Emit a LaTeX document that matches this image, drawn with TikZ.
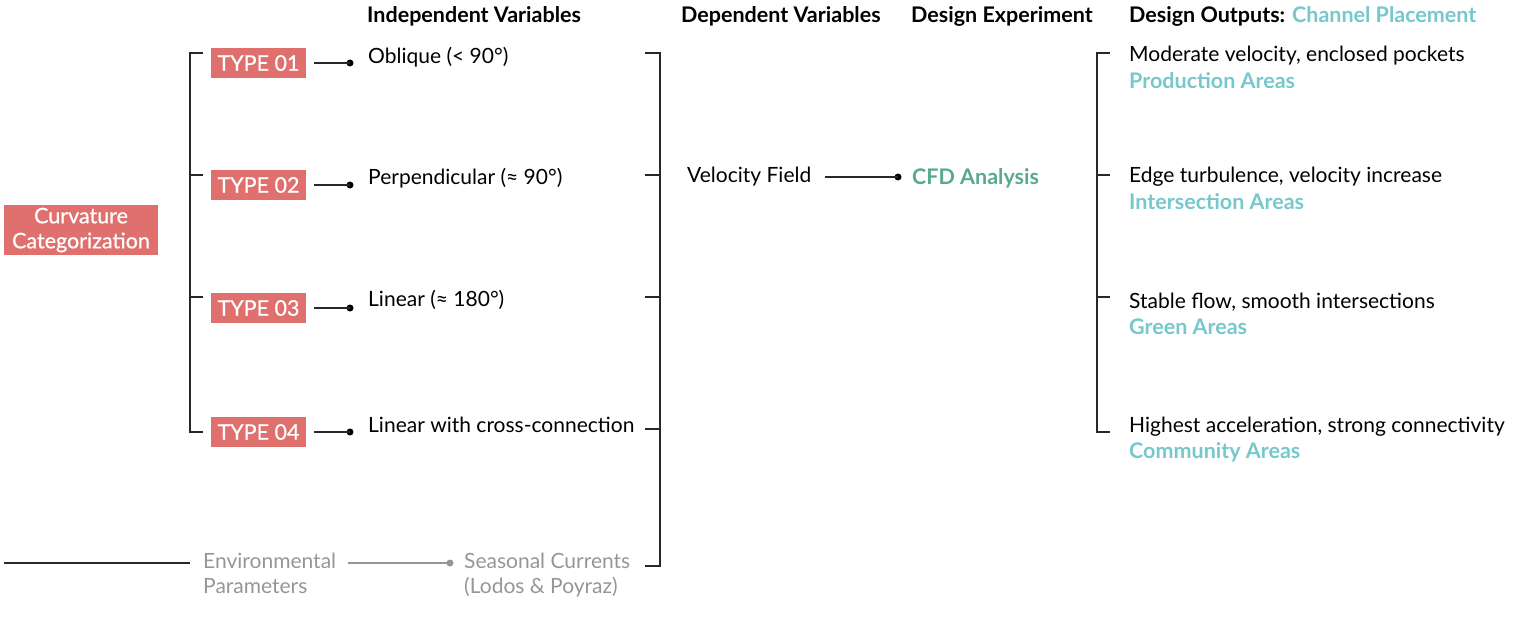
\documentclass[tikz,border=0pt]{standalone}
\usepackage{fontspec}
\setmainfont{Lato}
\newfontfamily\medfont{Lato}[FakeBold=0.6]
\definecolor{salmon}{RGB}{224,112,110}
\definecolor{cfdgreen}{RGB}{88,170,142}
\definecolor{tealc}{RGB}{118,200,204}
\definecolor{graytxt}{RGB}{150,150,150}
\definecolor{lineblk}{RGB}{40,40,40}
\begin{document}
\begin{tikzpicture}[x=1pt,y=-1pt,
  txt/.style={anchor=west,inner sep=0pt,font=\fontsize{21}{25}\selectfont,text=black},
  hdr/.style={anchor=west,inner sep=0pt,font=\fontsize{21.5}{25}\selectfont\bfseries,text=black},
  typebox/.style={fill=salmon,text=white,minimum width=95pt,minimum height=30pt,inner sep=0pt,font=\fontsize{21.5}{25}\selectfont\medfont},
  conn/.style={draw=lineblk,line width=1.1pt},
  dotc/.style={circle,fill=black,inner sep=0pt,minimum size=7pt},
  gdot/.style={circle,fill=graytxt,inner sep=0pt,minimum size=7pt},
  outb/.style={anchor=west,inner sep=0pt,font=\fontsize{21.5}{25}\selectfont\bfseries,text=tealc},
  gtxt/.style={anchor=north west,inner sep=0pt,align=left,font=\fontsize{21}{25}\selectfont,text=graytxt}
]
\useasboundingbox (0,0) rectangle (1523,623);
% headers
\node[hdr] (h1) at (367,16) {Independent Variables};
\node[hdr] (h2) at (681,16) {Dependent Variables};
\node[hdr] (h3) at (911,16) {Design Experiment};
\node[hdr] (h4) at (1129,16) {Design Outputs: \textcolor{tealc}{Channel Placement}};
% curvature box
\node[fill=salmon,text=white,minimum width=154pt,minimum height=50pt,inner sep=0pt,align=center,font=\fontsize{21.5}{25}\selectfont\medfont] (cc) at (81,230) {Curvature\\Categorization};
% types
\node[typebox] (t1) at (258.5,63) {TYPE 01};
\node[typebox] (t2) at (258.5,185) {TYPE 02};
\node[typebox] (t3) at (258.5,308) {TYPE 03};
\node[typebox] (t4) at (258.5,432) {TYPE 04};
% left bracket
\coordinate (lb1) at (203,53);
\coordinate (lb2) at (203,175);
\coordinate (lb3) at (203,297);
\coordinate (lb4) at (203,432);
\draw[conn] (lb1) -- (190,53) -- (190,432) -- (lb4);
\draw[conn] (190,175) -- (lb2);
\draw[conn] (190,297) -- (lb3);
% dots
\node[dotc] (d1) at (350,63) {};
\node[dotc] (d2) at (350,185) {};
\node[dotc] (d3) at (350,308) {};
\node[dotc] (d4) at (350,432) {};
\foreach \i in {1,2,3,4} {\draw[conn] ([xshift=8pt]t\i.east) -- (d\i.center);}
% independent variables
\node[txt] (v1) at (368,57) {Oblique (< 90°)};
\node[txt] (v2) at (368,178) {Perpendicular (≈ 90°)};
\node[txt] (v3) at (368,300) {Linear (≈ 180°)};
\node[txt] (v4) at (368,425) {Linear with cross-connection};
% right bracket of independent
\coordinate (rb1) at (645,53);
\coordinate (rb2) at (645,175);
\coordinate (rb3) at (645,297);
\coordinate (rb4) at (645,429);
\coordinate (rb5) at (645,566);
\draw[conn] (rb1) -- (660,53) -- (660,566) -- (rb5);
\draw[conn] (rb2) -- (660,175);
\draw[conn] (rb3) -- (660,297);
\draw[conn] (rb4) -- (660,429);
% dependent
\node[txt] (vf) at (687,177) {Velocity Field};
\node[dotc] (dvf) at (898,177) {};
\coordinate (vfl) at (825,177);
\draw[conn] (vfl) -- (dvf.center);
\node[anchor=west,inner sep=0pt,font=\fontsize{21.5}{25}\selectfont\bfseries,text=cfdgreen] (cfd) at (912,178) {CFD Analysis};
% output bracket
\coordinate (ob1) at (1110,53);
\coordinate (ob2) at (1110,175);
\coordinate (ob3) at (1110,297);
\coordinate (ob4) at (1110,432);
\draw[conn] (ob1) -- (1097,53) -- (1097,432) -- (ob4);
\draw[conn] (1097,175) -- (ob2);
\draw[conn] (1097,297) -- (ob3);
% outputs
\node[txt] (o1) at (1129,56) {Moderate velocity, enclosed pockets};
\node[outb] (o1b) at (1129,81) {Production Areas};
\node[txt] (o2) at (1129,177) {Edge turbulence, velocity increase};
\node[outb] (o2b) at (1129,202) {Intersection Areas};
\node[txt] (o3) at (1129,302) {Stable flow, smooth intersections};
\node[outb] (o3b) at (1129,327) {Green Areas};
\node[txt] (o4) at (1129,427) {Highest acceleration, strong connectivity};
\node[outb] (o4b) at (1129,452) {Community Areas};
% environmental
\coordinate (el) at (4,563);
\node[gtxt] (env) at (203,553) {Environmental\\Parameters};
\draw[conn] (el) -- (190,563);
\node[gdot] (gd) at (450,563) {};
\draw[draw=graytxt,line width=1.1pt] (348,563) -- (gd.center);
\node[gtxt] (sea) at (464,553) {Seasonal Currents\\(Lodos \& Poyraz)};
\end{tikzpicture}
\end{document}
